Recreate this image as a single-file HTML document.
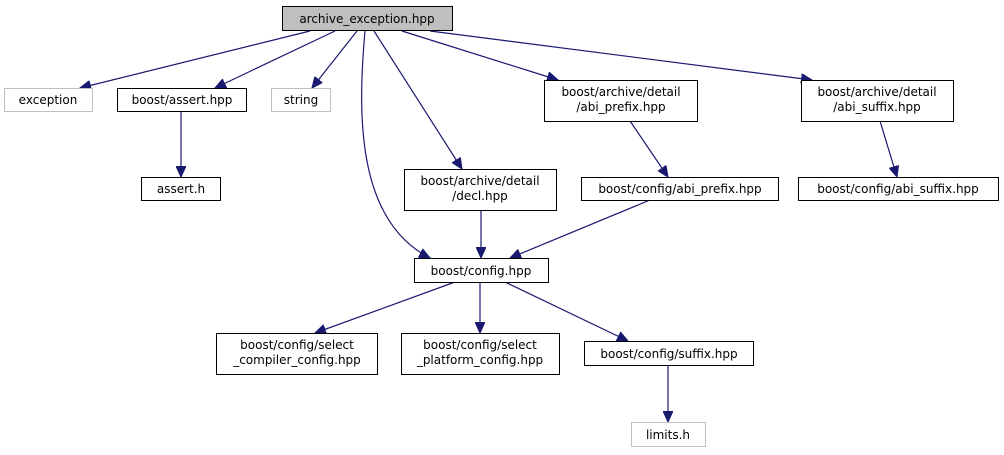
<!DOCTYPE html>
<html><head><meta charset="utf-8"><style>
html,body{margin:0;padding:0;background:#fff;}
svg{display:block;}
text{font-family:"DejaVu Sans","Liberation Sans",sans-serif;font-size:12px;fill:#000;}
</style></head><body>
<svg width="1004" height="455" viewBox="0 0 1004 455" xmlns="http://www.w3.org/2000/svg">
<defs><marker id="a" markerUnits="userSpaceOnUse" markerWidth="12" markerHeight="10" refX="11" refY="5" orient="auto"><path d="M0,0 L11,5 L0,10 Z" fill="#191970" stroke="#191970"/></marker></defs>
<g fill="none" stroke="#191970" stroke-width="1.2" marker-end="url(#a)">
<path d="M310,31 L80,88"/>
<path d="M335,31 L215,88"/>
<path d="M357,31 L312,88"/>
<path d="M365,31 C358,110 355,220 430,258"/>
<path d="M374,31 L462,169"/>
<path d="M402,31 L558,80"/>
<path d="M430,31 L812,80"/>
<path d="M181,111 L181,177"/>
<path d="M630,121 L668,177"/>
<path d="M880,121 L897,177"/>
<path d="M481,210 L481,258"/>
<path d="M650,200 L510,258"/>
<path d="M455,282 L315,333"/>
<path d="M480,282 L480,333"/>
<path d="M505,282 L628,341"/>
<path d="M668,365 L668,422"/>
</g>
<g stroke-width="1">
<rect x="282.5" y="6.5" width="170" height="24" fill="#bfbfbf" stroke="#000"/>
<rect x="4.5" y="88.5" width="88" height="23" fill="#fff" stroke="#bfbfbf"/>
<rect x="117.5" y="88.5" width="129" height="23" fill="#fff" stroke="#000"/>
<rect x="271.5" y="88.5" width="59" height="23" fill="#fff" stroke="#bfbfbf"/>
<rect x="544.5" y="80.5" width="153" height="41" fill="#fff" stroke="#000"/>
<rect x="801.5" y="80.5" width="152" height="41" fill="#fff" stroke="#000"/>
<rect x="141.5" y="177.5" width="79" height="23" fill="#fff" stroke="#000"/>
<rect x="404.5" y="169.5" width="152" height="41" fill="#fff" stroke="#000"/>
<rect x="581.5" y="177.5" width="197" height="23" fill="#fff" stroke="#000"/>
<rect x="798.5" y="177.5" width="200" height="23" fill="#fff" stroke="#000"/>
<rect x="414.5" y="258.5" width="134" height="24" fill="#fff" stroke="#000"/>
<rect x="216.5" y="333.5" width="161" height="41" fill="#fff" stroke="#000"/>
<rect x="401.5" y="333.5" width="158" height="41" fill="#fff" stroke="#000"/>
<rect x="584.5" y="341.5" width="169" height="24" fill="#fff" stroke="#000"/>
<rect x="631.5" y="422.5" width="74" height="24" fill="#fff" stroke="#bfbfbf"/>
</g>
<g text-anchor="middle">
<text x="367" y="23">archive_exception.hpp</text>
<text x="48" y="104">exception</text>
<text x="182" y="104">boost/assert.hpp</text>
<text x="301" y="104">string</text>
<text x="621" y="96">boost/archive/detail</text>
<text x="621" y="111">/abi_prefix.hpp</text>
<text x="877" y="96">boost/archive/detail</text>
<text x="877" y="111">/abi_suffix.hpp</text>
<text x="181" y="193">assert.h</text>
<text x="480" y="185">boost/archive/detail</text>
<text x="480" y="200">/decl.hpp</text>
<text x="680" y="193">boost/config/abi_prefix.hpp</text>
<text x="898" y="193">boost/config/abi_suffix.hpp</text>
<text x="481" y="275">boost/config.hpp</text>
<text x="297" y="349">boost/config/select</text>
<text x="297" y="364">_compiler_config.hpp</text>
<text x="480" y="349">boost/config/select</text>
<text x="480" y="364">_platform_config.hpp</text>
<text x="669" y="358">boost/config/suffix.hpp</text>
<text x="668" y="439">limits.h</text>
</g>
</svg>
</body></html>
